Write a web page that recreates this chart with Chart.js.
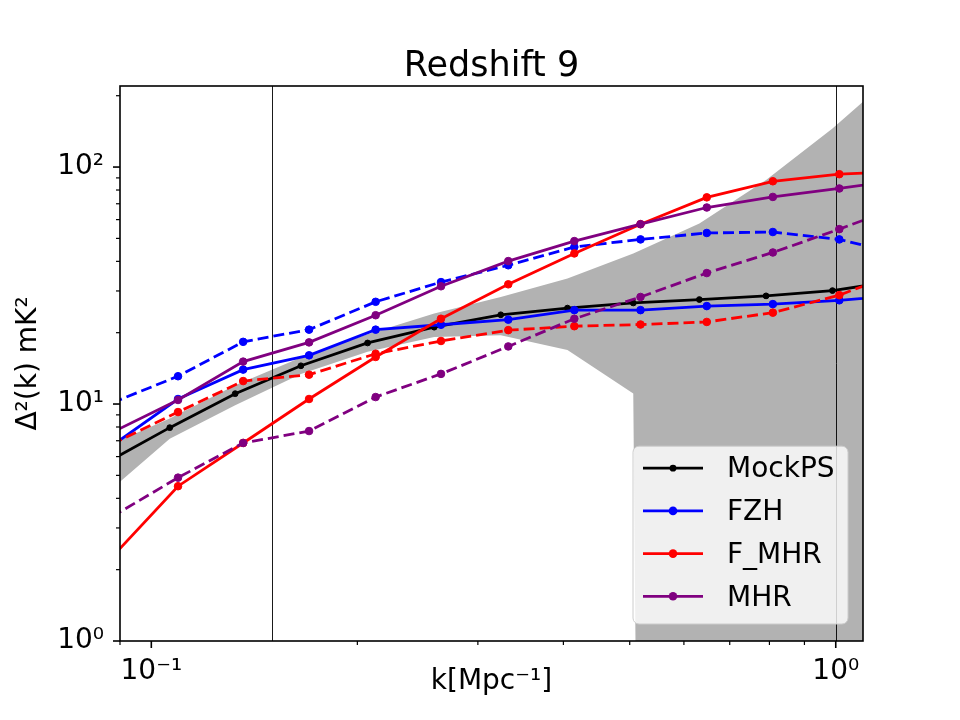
<!DOCTYPE html>
<html>
<head>
<meta charset="utf-8">
<script src="https://cdn.jsdelivr.net/npm/chart.js@4.4.0/dist/chart.umd.min.js"></script>
<style>
  html, body { margin: 0; padding: 0; background: #fff; }
  canvas { display: block; }
</style>
</head>
<body>
<canvas id="chartPS" width="960" height="720"></canvas>
<script>
// k en Mpc^-1 (modelos y mock)
const kModel = [0.0875, 0.1094, 0.1362, 0.170, 0.2127, 0.265, 0.3323, 0.415, 0.5185, 0.648, 0.8093, 1.012, 1.265];
const kMock = [0.085, 0.1064, 0.1326, 0.1654, 0.207, 0.259, 0.324, 0.4055, 0.506, 0.632, 0.791, 0.989, 1.237];

// Delta^2(k) en mK^2
const mockPS = [5.56, 7.95, 11.06, 14.5, 18.1, 21.1, 23.8, 25.4, 26.7, 27.6, 28.6, 30.1, 33.2];
const mockUpper = [6.55, 8.68, 12.0, 15.7, 19.7, 24.1, 28.3, 33.9, 43.2, 57.8, 88.1, 145.6, 256];
const mockLower = [4.08, 7.14, 9.88, 13.4, 16.6, 19.2, 19.5, 16.9, 11.07, 1e-30, 1e-30, 1e-30, 1e-30]; // <=0 -> recortado en log
const fzh = [6.65, 10.5, 13.97, 16.05, 20.6, 21.6, 22.7, 24.9, 24.9, 25.9, 26.4, 27.4, 28.8];
const fzhDash = [10.1, 13.1, 18.3, 20.6, 27.0, 32.7, 38.5, 46.0, 49.5, 52.7, 53.2, 49.5, 42.5];
const fmhr = [2.25, 4.5, 6.85, 10.5, 15.8, 22.9, 32.0, 43.2, 57.4, 74.5, 87.1, 93.3, 96];
const fmhrDash = [6.77, 9.25, 12.5, 13.3, 16.3, 18.45, 20.5, 21.3, 21.65, 22.2, 24.3, 28.8, 36.8];
const mhr = [7.58, 10.4, 15.1, 18.2, 23.7, 31.4, 40.1, 48.7, 57.4, 67.5, 74.8, 81.2, 88.9];
const mhrDash = [3.34, 4.89, 6.85, 7.69, 10.7, 13.4, 17.5, 22.9, 28.3, 35.7, 43.6, 54.7, 69.5];

const vLines = [0.15, 1.0]; // lineas verticales en k

const pts = (ks, ys) => ks.map((k, i) => ({ x: k, y: ys[i] }));
const supMap = { '-': '⁻', '0': '⁰', '1': '¹', '2': '²', '3': '³', '4': '⁴', '5': '⁵', '6': '⁶', '7': '⁷', '8': '⁸', '9': '⁹' };
const isPow10 = v => Math.abs(Math.log10(v) - Math.round(Math.log10(v))) < 1e-6;
const powLabel = v => '10' + String(Math.round(Math.log10(v))).split('').map(c => supMap[c]).join('');
const niceTick = v => {
    const e = Math.floor(Math.log10(v) + 1e-9);
    const m = v / Math.pow(10, e);
    return Math.abs(m - Math.round(m)) < 1e-6;
};

function serie(label, ks, ys, color, dashed, radius, order, inLegend) {
    return {
        label: label,
        data: pts(ks, ys),
        borderColor: color,
        backgroundColor: color,
        borderWidth: 2.8,
        borderDash: dashed ? [11, 5] : [],
        pointRadius: radius,
        pointBackgroundColor: color,
        pointBorderColor: color,
        pointBorderWidth: 1,
        fill: false,
        tension: 0,
        clip: 0,
        order: order,
        inLegend: inLegend
    };
}

Chart.defaults.font.family = "'DejaVu Sans', sans-serif";
Chart.defaults.color = '#000';

// marco, ticks mayores/menores, lineas verticales y leyenda
const decor = {
    id: 'decor',
    afterDatasetDraw(chart, args) {
        if (!chart.data.datasets[args.index].bandFill) return;
        const { ctx, chartArea: a, scales: { x } } = chart;
        ctx.save();
        ctx.strokeStyle = '#000';
        ctx.lineWidth = 0.9;
        vLines.forEach(k => {
            const px = Math.round(x.getPixelForValue(k)) + 0.5;
            ctx.beginPath();
            ctx.moveTo(px, a.top);
            ctx.lineTo(px, a.bottom);
            ctx.stroke();
        });
        ctx.restore();
    },
    afterDraw(chart) {
        const { ctx, chartArea: a, scales: { x, y } } = chart;
        ctx.save();
        ctx.strokeStyle = '#000';
        x.ticks.forEach(t => {
            const px = x.getPixelForValue(t.value);
            const big = isPow10(t.value);
            ctx.lineWidth = big ? 1.6 : 1.2;
            ctx.beginPath();
            ctx.moveTo(px, a.bottom);
            ctx.lineTo(px, a.bottom + (big ? 7 : 4));
            ctx.stroke();
        });
        y.ticks.forEach(t => {
            const py = y.getPixelForValue(t.value);
            const big = isPow10(t.value);
            ctx.lineWidth = big ? 1.6 : 1.2;
            ctx.beginPath();
            ctx.moveTo(a.left, py);
            ctx.lineTo(a.left - (big ? 7 : 4), py);
            ctx.stroke();
        });
        ctx.lineWidth = 1.6;
        ctx.strokeRect(a.left, a.top, a.right - a.left, a.bottom - a.top);

        // leyenda abajo a la derecha
        const items = chart.data.datasets.filter(d => d.inLegend);
        const w = 215, rowH = 42.7;
        const h = rowH * items.length + 7;
        const bx = a.right - 15 - w, by = a.bottom - 17 - h, r = 6;
        ctx.beginPath();
        ctx.moveTo(bx + r, by);
        ctx.arcTo(bx + w, by, bx + w, by + h, r);
        ctx.arcTo(bx + w, by + h, bx, by + h, r);
        ctx.arcTo(bx, by + h, bx, by, r);
        ctx.arcTo(bx, by, bx + w, by, r);
        ctx.closePath();
        ctx.fillStyle = 'rgba(255,255,255,0.8)';
        ctx.fill();
        ctx.strokeStyle = '#cccccc';
        ctx.lineWidth = 1;
        ctx.stroke();
        ctx.font = "28px 'DejaVu Sans'";
        ctx.textBaseline = 'middle';
        items.forEach((d, i) => {
            const cy = by + 22 + i * rowH;
            ctx.strokeStyle = d.borderColor;
            ctx.lineWidth = d.borderWidth;
            ctx.beginPath();
            ctx.moveTo(bx + 10, cy);
            ctx.lineTo(bx + 70, cy);
            ctx.stroke();
            ctx.fillStyle = d.borderColor;
            ctx.beginPath();
            ctx.arc(bx + 40, cy, d.pointRadius + 0.5, 0, Math.PI * 2);
            ctx.fill();
            ctx.fillStyle = '#000';
            ctx.fillText(d.label, bx + 94, cy + 2);
        });
        ctx.restore();
    }
};

const ctxPS = document.getElementById('chartPS').getContext('2d');
const psChart = new Chart(ctxPS, {
    type: 'line',
    data: {
        datasets: [
            serie('MockPS', kMock, mockPS, '#000000', false, 2.9, 8, true),
            serie('FZH', kModel, fzh, '#0000ff', false, 3.8, 7, true),
            serie('F_MHR', kModel, fmhr, '#ff0000', false, 3.8, 5, true),
            serie('MHR', kModel, mhr, '#800080', false, 3.8, 3, true),
            serie('FZH dashed', kModel, fzhDash, '#0000ff', true, 3.8, 6, false),
            serie('F_MHR dashed', kModel, fmhrDash, '#ff0000', true, 3.8, 4, false),
            serie('MHR dashed', kModel, mhrDash, '#800080', true, 3.8, 2, false),
            {
                label: 'band upper',
                data: pts(kMock, mockUpper),
                borderWidth: 0, pointRadius: 0, fill: false, clip: 0, order: 100
            },
            {
                label: 'band lower',
                data: pts(kMock, mockLower),
                borderWidth: 0, pointRadius: 0, clip: 0, order: 101,
                fill: '-1', backgroundColor: '#b2b2b2', bandFill: true
            }
        ]
    },
    options: {
        responsive: false,
        animation: false,
        events: [],
        layout: { padding: { left: 0, right: 97, top: 0, bottom: 0 } },
        plugins: {
            legend: { display: false },
            tooltip: { enabled: false },
            title: {
                display: true,
                text: 'Redshift 9',
                fullSize: false,
                color: '#000',
                font: { size: 35, weight: 'normal', lineHeight: 1 },
                padding: { top: 49.5, bottom: 1.5 }
            }
        },
        scales: {
            x: {
                type: 'logarithmic',
                min: 0.09,
                max: 1.096,
                afterBuildTicks: s => { s.ticks = s.ticks.filter(t => niceTick(t.value)); },
                afterFit: s => { s.height = 79; },
                grid: { display: false, drawTicks: false, tickLength: 0 },
                border: { display: false },
                ticks: {
                    autoSkip: false, maxRotation: 0, padding: 14,
                    font: { size: 28 }, color: '#000',
                    callback: v => isPow10(v) ? powLabel(v) : ''
                },
                title: {
                    display: true, text: 'k[Mpc⁻¹]', color: '#000',
                    font: { size: 28 }, padding: { top: 0, bottom: 21 }
                }
            },
            y: {
                type: 'logarithmic',
                min: 1,
                max: 219.8,
                afterBuildTicks: s => { s.ticks = s.ticks.filter(t => niceTick(t.value)); },
                afterFit: s => { s.width = 120; },
                grid: { display: false, drawTicks: false, tickLength: 0 },
                border: { display: false },
                ticks: {
                    autoSkip: false, padding: 16,
                    font: { size: 28 }, color: '#000',
                    callback: v => isPow10(v) ? powLabel(v) : ''
                },
                title: {
                    display: true, text: 'Δ²(k) mK²', color: '#000',
                    font: { size: 28 }, padding: { top: 12, bottom: 0 }
                }
            }
        }
    },
    plugins: [decor]
});
</script>
</body>
</html>
